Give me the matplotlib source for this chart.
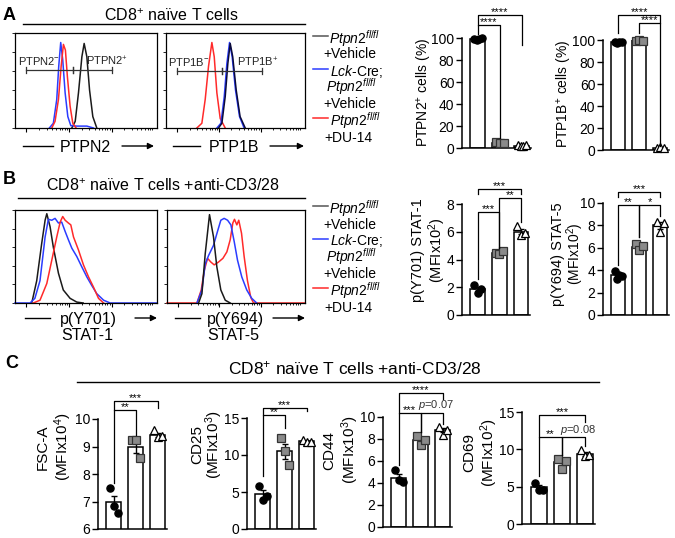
import matplotlib
matplotlib.use('Agg')
import matplotlib.pyplot as plt
from matplotlib.lines import Line2D
from matplotlib.patches import FancyArrowPatch
import numpy as np

plt.rcParams.update({
    'font.family': ['Liberation Sans', 'DejaVu Sans'],
    'mathtext.fontset': 'custom',
    'mathtext.rm': 'Liberation Sans',
    'mathtext.it': 'Liberation Sans:italic',
    'mathtext.bf': 'Liberation Sans:bold',
    'axes.linewidth': 1.0,
})

# ---------------- data ----------------
# Histograms: x in % of axis width, y in % of mode
a1_black_x = [40, 42.4, 44.7, 47.1, 48.7, 50.6, 52.5, 54.8, 57.6]
a1_black_y = [0, 7, 37, 75, 89, 75, 40, 12, 0]
a1_blue_x = [24.2, 27, 29.4, 30.8, 32.2, 33.6, 35.3, 37.2, 39.3, 43.5, 50.6, 55.3]
a1_blue_y = [0, 5, 30, 65, 90, 72, 37, 12, 2.5, 2, 2, 0]
a1_red_x = [25.9, 28.2, 30.6, 32.5, 34.1, 35.5, 36.9, 38.8, 40.7, 43]
a1_red_y = [0, 7, 30, 65, 88, 82, 54, 23, 5, 0]

a2_red_x = [22.2, 25.8, 28.2, 30.6, 33, 34.7, 36.6, 39, 42.6]
a2_red_y = [0, 5, 30, 65, 90, 75, 37, 10, 0]
a2_blue_x = [36.6, 39.5, 41.9, 43.8, 45.7, 47.6, 50, 52.9, 56.2]
a2_blue_y = [0, 5, 33, 68, 90, 75, 40, 12, 0]
a2_black_x = [37.8, 40.2, 42.6, 44.5, 46.2, 48, 50.5, 53.3, 57]
a2_black_y = [0, 5, 33, 68, 89, 75, 40, 12, 0]

b1_black_x = [11.8, 15.3, 18.8, 21.2, 22.4, 24.7, 27, 30.6, 34, 38.8, 43.5, 48]
b1_black_y = [0, 24, 64, 89, 96, 82, 60, 32, 14, 5, 1, 0]
b1_blue_x = [0, 10.6, 14, 17.6, 21.2, 23.5, 25.9, 28.2, 30.6, 32.9, 35.3, 37.6, 40,
             43.5, 47, 50.6, 54, 57.6, 62.4, 67, 100]
b1_blue_y = [0, 0, 5, 24, 71, 90, 89, 91, 86, 87, 77, 68, 59, 50, 39, 28, 19, 10, 3, 0, 0]
b1_red_x = [12.9, 17.6, 22.4, 25.9, 29.4, 31.8, 33.6, 35.3, 37.6, 39.3, 41.2, 44.7,
            48.2, 51.8, 55.3, 58.8, 62.4]
b1_red_y = [0, 3, 21, 46, 71, 87, 93, 89, 86, 84, 71, 57, 41, 28, 17, 5, 0]

b2_black_x = [22.9, 25.3, 27.7, 30.8, 33.7, 36.1, 39, 42.2, 45.8]
b2_black_y = [0, 10, 53, 95, 71, 39, 14, 3, 0]
b2_blue_x = [21.7, 25.3, 27.7, 30.1, 33.7, 36.6, 39, 41.4, 43.9, 46.3, 48.7, 51.1,
             54.2, 57.8, 61.4, 65]
b2_blue_y = [0, 14, 42, 51, 62, 77, 89, 91, 89, 84, 66, 46, 28, 14, 5, 0]
b2_red_x = [0, 21.7, 24.8, 27, 29.4, 31.8, 34.2, 37.3, 40.5, 43.4, 45.8, 47.7, 48.9,
            50.6, 52, 54, 55.9, 58.3, 60.7, 62.7, 100]
b2_red_y = [0, 0, 14, 35, 48, 44, 41, 44, 48, 55, 68, 86, 90, 84, 89, 75, 50, 24, 6, 0, 0]

# Bar charts: points per group, bar means and SEM
ptpn2_pts = [[99.5, 98.5, 99.0, 100.0], [5.5, 4.5, 5.0], [2.5, 1.5, 2.0, 3.0]]
ptpn2_mean = [99.2, 5.0, 2.2]
ptpn2_sem = [0.3, 0.3, 0.3]
ptp1b_pts = [[98.0, 97.5, 98.5, 98.0], [99.5, 100.0, 99.5], [2.0, 2.5, 1.5]]
ptp1b_mean = [98.0, 99.7, 2.0]
ptp1b_sem = [0.2, 0.2, 0.3]

stat1_pts = [[2.15, 1.6, 1.85], [4.5, 4.4, 4.6], [6.4, 5.8, 5.9]]
stat1_mean = [1.87, 4.5, 6.0]
stat1_sem = [0.16, 0.06, 0.18]
stat5_pts = [[3.9, 3.2, 3.6, 3.5], [6.3, 5.8, 6.2], [8.3, 7.4, 8.2]]
stat5_mean = [3.55, 6.1, 8.0]
stat5_sem = [0.15, 0.15, 0.28]

fsc_pts = [[7.5, 6.85, 6.6], [9.25, 9.25, 8.6], [9.6, 9.35, 9.4]]
fsc_mean = [7.0, 9.0, 9.43]
fsc_sem = [0.2, 0.22, 0.07]
cd25_pts = [[5.8, 3.9, 4.4], [12.3, 10.6, 8.7], [12.0, 11.7, 11.8]]
cd25_mean = [4.7, 10.5, 11.85]
cd25_sem = [0.55, 1.0, 0.1]
cd44_pts = [[5.2, 4.3, 4.1], [8.3, 7.5, 7.9], [9.1, 8.4, 8.8]]
cd44_mean = [4.5, 7.9, 8.8]
cd44_sem = [0.3, 0.22, 0.2]
cd69_pts = [[5.5, 4.5, 4.6], [8.75, 7.4, 8.5], [9.9, 9.1, 9.2]]
cd69_mean = [4.9, 8.3, 9.4]
cd69_sem = [0.3, 0.4, 0.25]

# ---------------- figure ----------------
W, H = 675, 538
fig = plt.figure(figsize=(6.75, 5.38), dpi=100)


def ax_px(l, t, r, b):
    return fig.add_axes([l / W, 1 - b / H, (r - l) / W, (b - t) / H])


def fx(x):
    return x / W


def fy(y):
    return 1 - y / H


BLACK = '#1a1a1a'
BLUE = '#2b3cff'
RED = '#ff2a2a'


def hist_axes(l, t, r, b, curves, ymax=100):
    ax = ax_px(l, t, r, b)
    for xs, ys, c in curves:
        ax.plot(xs, ys, color=c, lw=1.1, clip_on=False, solid_joinstyle='round')
    ax.set_xlim(0, 100)
    ax.set_ylim(0, ymax)
    # FlowJo-style ticks
    major = [8, 38, 68]
    minor = []
    for d in major:
        for k in range(2, 10):
            v = d + 30 * np.log10(k)
            if v < 100:
                minor.append(v)
    ax.set_xticks(major)
    ax.set_xticks(minor, minor=True)
    ax.set_yticks([0, 20, 40, 60, 80, 100])
    ax.tick_params(axis='x', which='major', length=3, width=0.8, labelbottom=False)
    ax.tick_params(axis='x', which='minor', length=1.5, width=0.6)
    ax.tick_params(axis='y', which='major', length=2, width=0.6, labelleft=False)
    for s in ax.spines.values():
        s.set_linewidth(0.9)
    return ax


def gate(ax, x1, x2, y, lab, lx, sign):
    ax.plot([x1, x2], [y, y], color='#333', lw=0.9)
    ax.plot([x1, x1], [y - 3, y + 3], color='#333', lw=0.9)
    ax.plot([x2, x2], [y - 3, y + 3], color='#333', lw=0.9)
    ax.text(lx, y + 9, lab + r'$^{' + sign + r'}$', fontsize=8, ha='left', va='center', color='#222')


def hist_xlabel(x_line0, x_line1, text, xt, x_arr0, x_arr1, y, sub=None, xsub=None, ysub=None):
    fig.add_artist(Line2D([fx(x_line0), fx(x_line1)], [fy(y), fy(y)], color='k', lw=1))
    fig.text(fx(xt), fy(y), text, ha='center', va='center_baseline', fontsize=11.5)
    fig.add_artist(FancyArrowPatch((fx(x_arr0), fy(y)), (fx(x_arr1), fy(y)),
                                   transform=fig.transFigure, arrowstyle='-|>',
                                   mutation_scale=9, lw=1, color='k',
                                   shrinkA=0, shrinkB=0))
    if sub:
        fig.text(fx(xsub), fy(ysub), sub, ha='center', va='center_baseline', fontsize=11.5)


def legend_block(y0):
    ptpn = r'$\mathit{Ptpn2}^{\mathit{fl/fl}}$'
    rows = [
        (36, '#555555', ptpn, 329),
        (53, None, '+Vehicle', 323),
        (69, BLUE, r'$\mathit{Lck}$-Cre;', 330),
        (84, None, ptpn, 326),
        (102, None, '+Vehicle', 323),
        (118, RED, ptpn, 330),
        (137, None, '+DU-14', 324),
    ]
    for y, col, txt, x in rows:
        if col is not None:
            fig.add_artist(Line2D([fx(313), fx(328)], [fy(y + y0), fy(y + y0)], color=col, lw=1.1))
        fig.text(fx(x), fy(y + y0), txt, ha='left', va='center_baseline', fontsize=10)


def bar_axes(l, t, r, b, pts, means, sems, ylim, yticks):
    ax = ax_px(l, t, r, b)
    xs = np.arange(3)
    ax.bar(xs, means, width=0.68, color='white', edgecolor='k', linewidth=1.1, zorder=1)
    ax.errorbar(xs, means, yerr=sems, fmt='none', ecolor='k', elinewidth=1.0,
                capsize=2.5, capthick=1.0, zorder=2)
    styles = [dict(marker='o', mfc='black', mec='black'),
              dict(marker='s', mfc='#8a8a8a', mec='#333333'),
              dict(marker='^', mfc='white', mec='black')]
    for i, p in enumerate(pts):
        n = len(p)
        offs = np.linspace(-0.17, 0.17, n)
        ax.plot(xs[i] + offs, p, linestyle='none', markersize=5.2, mew=0.9,
                zorder=3, clip_on=False, **styles[i])
    ax.set_xlim(-0.72, 2.42)
    ax.set_ylim(*ylim)
    ax.set_yticks(yticks)
    ax.set_xticks([])
    ax.spines['top'].set_visible(False)
    ax.spines['right'].set_visible(False)
    ax.spines['left'].set_linewidth(1.1)
    ax.spines['bottom'].set_linewidth(1.1)
    ax.tick_params(axis='y', length=4, width=1.0, labelsize=10, pad=1.5)
    return ax


def bracket(ax, i, j, y, l1, l2, text, fs=8, italic=False):
    ax.plot([i, i, j, j], [l1, y, y, l2], color='k', lw=0.9, clip_on=False, zorder=4)
    if italic:
        ax.annotate(text, xy=((i + j) / 2, y), xytext=(3, 0.5), textcoords='offset points',
                    ha='center', va='bottom', fontsize=fs, color='#333', annotation_clip=False)
    else:
        ax.annotate(text, xy=((i + j) / 2, y), xytext=(0, -1.5), textcoords='offset points',
                    ha='center', va='bottom', fontsize=fs, annotation_clip=False)


# ---------------- Panel A ----------------
fig.text(fx(3), fy(15), 'A', fontsize=13, fontweight='bold', ha='left', va='center')
fig.text(fx(171), fy(16), r'CD8$^{+}$ naïve T cells', fontsize=11.5, ha='center', va='center')
fig.add_artist(Line2D([fx(23), fx(305)], [fy(24), fy(24)], color='k', lw=1))

axA1 = hist_axes(15, 33, 157, 128, [(a1_black_x, a1_black_y, BLACK),
                                    (a1_blue_x, a1_blue_y, BLUE),
                                    (a1_red_x, a1_red_y, RED)])
gate(axA1, 8, 40.7, 61, 'PTPN2', 2.0, '-')
gate(axA1, 40.7, 68, 61, 'PTPN2', 50, '+')
axA2 = hist_axes(166, 33, 305, 128, [(a2_red_x, a2_red_y, RED),
                                     (a2_blue_x, a2_blue_y, BLUE),
                                     (a2_black_x, a2_black_y, '#0a0a3a')])
gate(axA2, 8, 40, 60, 'PTP1B', 1.5, '-')
gate(axA2, 40, 69, 60, 'PTP1B', 51, '+')

hist_xlabel(23, 53, 'PTPN2', 85, 122, 154, 146)
hist_xlabel(173, 200, 'PTP1B', 234, 270, 304, 146)
legend_block(0)

axA3 = bar_axes(462, 38, 531, 148, ptpn2_pts, ptpn2_mean, ptpn2_sem, (0, 100), [0, 20, 40, 60, 80, 100])
bracket(axA3, 0, 1, 112, 104, 9, '****')
bracket(axA3, 0, 2, 121, 112, 94, '****')
fig.text(fx(425), fy(92), r'PTPN2$^{+}$ cells (%)', rotation=90, ha='center', va='center', fontsize=10)

axA4 = bar_axes(603, 40, 669, 150, ptp1b_pts, ptp1b_mean, ptp1b_sem, (0, 100), [0, 20, 40, 60, 80, 100])
bracket(axA4, 0, 2, 123, 106, 115, '****')
bracket(axA4, 1, 2, 115.5, 106, 4, '****')
fig.text(fx(565), fy(94), r'PTP1B$^{+}$ cells (%)', rotation=90, ha='center', va='center', fontsize=10)

# ---------------- Panel B ----------------
fig.text(fx(3), fy(180), 'B', fontsize=13, fontweight='bold', ha='left', va='center')
fig.text(fx(163), fy(186), r'CD8$^{+}$ naïve T cells +anti-CD3/28', fontsize=11.5, ha='center', va='center')
fig.add_artist(Line2D([fx(18), fx(305)], [fy(198), fy(198)], color='k', lw=1))

axB1 = hist_axes(15, 210, 157, 303, [(b1_black_x, b1_black_y, BLACK),
                                     (b1_blue_x, b1_blue_y, BLUE),
                                     (b1_red_x, b1_red_y, RED)])
axB2 = hist_axes(167, 210, 305, 303, [(b2_red_x, b2_red_y, RED),
                                      (b2_blue_x, b2_blue_y, BLUE),
                                      (b2_black_x, b2_black_y, BLACK)])
hist_xlabel(25, 50, 'p(Y701)', 88, 135, 157, 318, 'STAT-1', 87, 334)
hist_xlabel(175, 200, 'p(Y694)', 235, 273, 305, 318, 'STAT-5', 233, 334)
legend_block(170)

axB3 = bar_axes(462, 204, 530, 315, stat1_pts, stat1_mean, stat1_sem, (0, 8), [0, 2, 4, 6, 8])
bracket(axB3, 0, 1, 7.4, 2.6, 4.85, '***')
bracket(axB3, 1, 2, 8.4, 4.85, 6.7, '**')
bracket(axB3, 0, 2, 9.1, 8.75, 8.75, '***')
fig.text(fx(418), fy(250), 'p(Y701) STAT-1', rotation=90, ha='center', va='center', fontsize=10.5)
fig.text(fx(437), fy(250), r'(MFIx10$^{2}$)', rotation=90, ha='center', va='center', fontsize=10.5)

axB4 = bar_axes(603, 203, 669, 315, stat5_pts, stat5_mean, stat5_sem, (0, 10), [0, 2, 4, 6, 8, 10])
bracket(axB4, 0, 1, 9.8, 4.5, 7.0, '**')
bracket(axB4, 1, 2, 9.8, 7.0, 8.8, '*')
bracket(axB4, 0, 2, 11.0, 10.55, 10.55, '***')
fig.text(fx(558), fy(254), 'p(Y694) STAT-5', rotation=90, ha='center', va='center', fontsize=10.5)
fig.text(fx(575), fy(254), r'(MFIx10$^{2}$)', rotation=90, ha='center', va='center', fontsize=10)

# ---------------- Panel C ----------------
fig.text(fx(5), fy(364), 'C', fontsize=13, fontweight='bold', ha='left', va='center')
fig.text(fx(355), fy(368), r'CD8$^{+}$ naïve T cells +anti-CD3/28', fontsize=12.5, ha='center', va='center')
fig.add_artist(Line2D([fx(77), fx(599)], [fy(382), fy(382)], color='k', lw=1))

axC1 = bar_axes(98, 419, 167, 529, fsc_pts, fsc_mean, fsc_sem, (6, 10), [6, 7, 8, 9, 10])
bracket(axC1, 0, 1, 10.32, 7.66, 9.42, '**')
bracket(axC1, 0, 2, 10.65, 10.32, 10.4, '***')
fig.text(fx(43), fy(447), 'FSC-A', rotation=90, ha='center', va='center', fontsize=11)
fig.text(fx(63), fy(447), r'(MFIx10$^{4}$)', rotation=90, ha='center', va='center', fontsize=11)

axC2 = bar_axes(247, 418, 316, 529, cd25_pts, cd25_mean, cd25_sem, (0, 15), [0, 5, 10, 15])
bracket(axC2, 0, 1, 15.4, 7.1, 13.6, '**')
bracket(axC2, 0, 2, 16.4, 15.4, 16.0, '***')
fig.text(fx(197), fy(445), 'CD25', rotation=90, ha='center', va='center', fontsize=11)
fig.text(fx(214), fy(445), r'(MFIx10$^{3}$)', rotation=90, ha='center', va='center', fontsize=11)

axC3 = bar_axes(383, 417, 452, 527, cd44_pts, cd44_mean, cd44_sem, (0, 10), [0, 2, 4, 6, 8, 10])
bracket(axC3, 0, 1, 10.4, 5.6, 8.6, '***')
bracket(axC3, 1, 2, 10.4, 8.6, 9.4, r'$\mathit{p}$=0.07', fs=8, italic=True)
bracket(axC3, 0, 2, 12.2, 10.4, 11.6, '****')
fig.text(fx(329), fy(450), 'CD44', rotation=90, ha='center', va='center', fontsize=11)
fig.text(fx(350), fy(450), r'(MFIx10$^{3}$)', rotation=90, ha='center', va='center', fontsize=11)

axC4 = bar_axes(522, 412, 595, 524, cd69_pts, cd69_mean, cd69_sem, (0, 15), [0, 5, 10, 15])
bracket(axC4, 0, 1, 11.6, 6.4, 9.2, '**')
bracket(axC4, 1, 2, 11.6, 9.2, 10.4, r'$\mathit{p}$=0.08', fs=8, italic=True)
bracket(axC4, 0, 2, 14.6, 11.6, 13.7, '***')
fig.text(fx(469), fy(453), 'CD69', rotation=90, ha='center', va='center', fontsize=11)
fig.text(fx(489), fy(453), r'(MFIx10$^{2}$)', rotation=90, ha='center', va='center', fontsize=11)

fig.savefig('out.png', dpi=100)
